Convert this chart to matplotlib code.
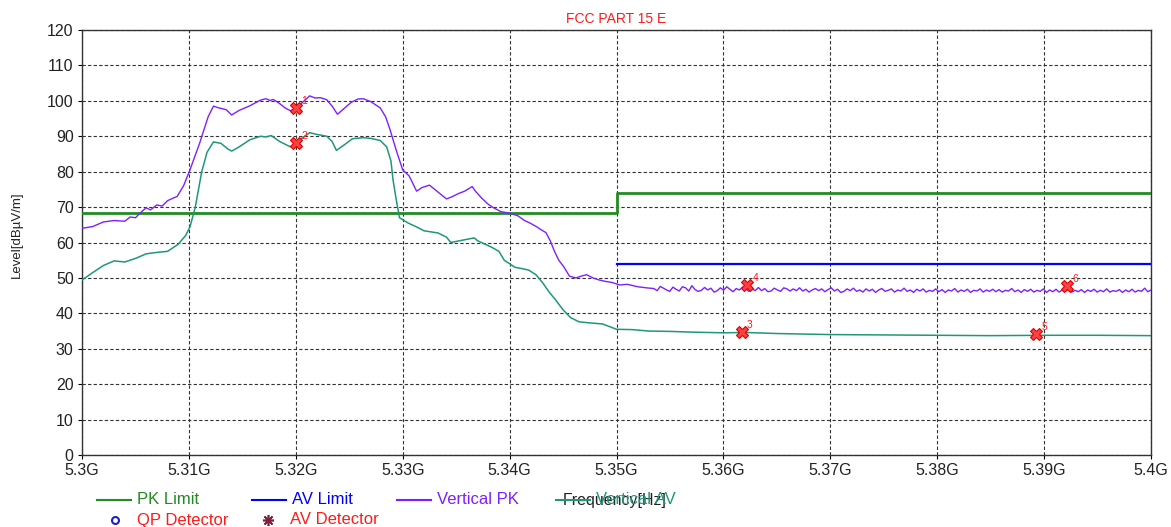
import numpy as np
import matplotlib
matplotlib.use("Agg")
import matplotlib.pyplot as plt
from matplotlib.lines import Line2D

plt.rcParams['font.family'] = ['Liberation Sans', 'DejaVu Sans']

# ---------------- data ----------------
pk_limit_f = [5.300, 5.350, 5.350, 5.400]
pk_limit_v = [68.3, 68.3, 74.0, 74.0]
av_limit_f = [5.350, 5.400]
av_limit_v = [54.0, 54.0]

vpk_f = [5.3000, 5.3010, 5.3020, 5.3030, 5.3040, 5.3045, 5.3050, 5.3055, 5.3060, 5.3064,
         5.3070, 5.3075, 5.3080, 5.3085, 5.3089, 5.3095, 5.3101, 5.3110, 5.3118, 5.3123,
         5.3128, 5.3135, 5.3140, 5.3147, 5.3157, 5.3167, 5.3172, 5.3176, 5.3179, 5.3185,
         5.3190, 5.3195, 5.3200, 5.3206, 5.3213, 5.3218, 5.3223, 5.3229, 5.3234, 5.3239,
         5.3245, 5.3252, 5.3258, 5.3263, 5.3270, 5.3279, 5.3284, 5.3288, 5.3294, 5.3300,
         5.3306, 5.3313, 5.3318, 5.3325, 5.3330, 5.3336, 5.3341, 5.3346, 5.3352, 5.3358,
         5.3365, 5.3368, 5.3374, 5.3380, 5.3385, 5.3392, 5.3400, 5.3408, 5.3414, 5.3419,
         5.3425, 5.3430, 5.3434, 5.3438, 5.3442, 5.3446, 5.3451, 5.3456, 5.3462, 5.3468,
         5.3472, 5.3478, 5.3484, 5.3490, 5.3496, 5.3503, 5.3510, 5.3520, 5.3528]
vpk_v = [64.0, 64.5, 65.8, 66.2, 66.0, 67.2, 67.0, 68.5, 69.8, 69.2,
         70.6, 70.3, 71.8, 72.5, 73.0, 76.0, 80.5, 88.0, 95.5, 98.5,
         98.0, 97.5, 96.0, 97.3, 98.6, 100.2, 100.6, 100.1, 100.4, 99.2,
         98.0, 97.2, 97.8, 99.5, 101.4, 100.8, 100.9, 100.3, 98.5, 96.2,
         97.8, 99.6, 100.5, 100.6, 99.8, 98.0, 95.5, 92.0, 86.0, 80.5,
         78.8, 74.5, 75.5, 76.2, 75.0, 73.5, 72.3, 72.9, 73.8, 74.5,
         75.8, 74.5, 72.5, 70.8, 69.8, 68.7, 68.3, 67.5, 66.2, 65.5,
         64.5, 63.5, 62.8, 60.5, 57.5, 55.0, 53.0, 50.5, 50.0, 50.6,
         50.9, 50.0, 49.4, 49.0, 48.7, 48.0, 48.2, 47.5, 47.2]
# noisy flat part of the peak trace, 5.3535 .. 5.4 GHz
vpk_tail_v = [47.0, 46.4, 47.6, 47.1, 46.6, 46.2, 47.4, 46.8, 46.3, 47.5,
              47.2, 46.3, 47.8, 46.7, 46.2, 46.5, 47.3, 46.6, 47.1, 46.0,
              46.4, 47.2, 46.5, 47.5, 46.8, 46.1, 47.0, 46.6, 47.4, 47.0,
              46.2, 46.9, 46.4, 47.3, 46.4, 47.0, 46.1, 46.3, 47.1, 46.6,
              46.2, 47.2, 46.9, 46.3, 46.9, 46.4, 47.2, 46.3, 46.8, 46.0,
              46.6, 47.0, 46.4, 46.9, 46.1, 46.7, 47.2, 46.3, 46.8, 45.9,
              46.2, 46.9, 46.4, 47.1, 46.2, 46.6, 46.0, 46.9, 46.3, 46.8,
              45.9, 46.6, 47.0, 46.2, 46.5, 46.9, 46.0, 46.6, 46.3, 47.1,
              46.2, 46.6, 45.9, 46.8, 46.3, 46.9, 46.0, 46.5, 46.2, 46.9,
              46.1, 46.7, 45.9, 46.6, 46.3, 47.0, 46.0, 46.6, 46.2, 46.8,
              45.9, 46.5, 46.3, 46.9, 46.0, 46.6, 46.2, 46.8, 46.1, 46.7,
              46.0, 46.5, 46.3, 47.0, 46.1, 46.6, 45.9, 46.7, 46.2, 46.8,
              46.0, 46.5, 46.2, 46.9, 45.9, 46.6, 46.1, 46.8, 46.0, 46.6,
              46.2, 46.9, 46.0, 46.5, 46.1, 46.7, 45.9, 46.6, 46.2, 46.8,
              46.0, 46.5, 46.1, 46.9, 46.0, 46.4, 46.2, 46.7, 45.9, 46.6,
              46.1, 46.8, 46.0, 46.5, 46.2, 47.1, 46.1, 46.6]

vav_f = [5.3000, 5.3010, 5.3020, 5.3030, 5.3040, 5.3050, 5.3060, 5.3070, 5.3080, 5.3090,
         5.3097, 5.3101, 5.3106, 5.3112, 5.3117, 5.3123, 5.3130, 5.3136, 5.3140, 5.3147,
         5.3157, 5.3167, 5.3172, 5.3177, 5.3185, 5.3195, 5.3200, 5.3206, 5.3213, 5.3220,
         5.3229, 5.3234, 5.3238, 5.3245, 5.3253, 5.3263, 5.3270, 5.3279, 5.3285, 5.3289,
         5.3291, 5.3294, 5.3297, 5.3305, 5.3313, 5.3320, 5.3333, 5.3341, 5.3345, 5.3355,
         5.3367, 5.3370, 5.3383, 5.3390, 5.3395, 5.3400, 5.3405, 5.3412, 5.3418, 5.3425,
         5.3431, 5.3437, 5.3443, 5.3450, 5.3457, 5.3465, 5.3475, 5.3487, 5.3500, 5.3515,
         5.3530, 5.3550, 5.3570, 5.3600, 5.3620, 5.3650, 5.3700, 5.3750, 5.3800, 5.3850,
         5.3900, 5.3950, 5.4000]
vav_v = [49.4, 51.5, 53.5, 54.8, 54.5, 55.5, 56.8, 57.2, 57.5, 59.5,
         62.0, 64.4, 70.0, 80.0, 85.5, 88.4, 88.0, 86.5, 85.8, 87.0,
         89.0, 90.0, 89.8, 90.2, 88.5, 87.0, 88.0, 89.5, 91.0, 90.5,
         90.0, 88.5, 86.0, 87.5, 89.3, 89.6, 89.4, 88.8, 87.0, 83.0,
         77.6, 72.0, 67.0, 65.5, 64.4, 63.3, 62.7, 61.5, 60.0, 60.6,
         61.3, 60.5, 58.7, 57.5, 55.0, 54.0, 53.0, 52.6, 52.2, 50.8,
         48.6, 46.0, 43.8, 41.0, 38.8, 37.6, 37.3, 37.0, 35.5, 35.4,
         35.0, 34.9, 34.7, 34.5, 34.6, 34.3, 34.0, 33.9, 33.8, 33.7,
         33.8, 33.8, 33.7]

mark_f = [5.3200, 5.3200, 5.3617, 5.3622, 5.3892, 5.3921]
mark_v = [98.0, 88.0, 34.7, 48.0, 34.2, 47.7]
mark_lbl = ["1", "2", "3", "4", "5", "6"]

x_ticks = [5.30, 5.31, 5.32, 5.33, 5.34, 5.35, 5.36, 5.37, 5.38, 5.39, 5.40]
x_tick_labels = ["5.3G", "5.31G", "5.32G", "5.33G", "5.34G", "5.35G",
                 "5.36G", "5.37G", "5.38G", "5.39G", "5.4G"]
y_ticks = list(range(0, 121, 10))

# ---------------- colours ----------------
c_pk = "#228B22"
c_av = "#0000FF"
c_vpk = "#7F1FFF"
c_vav = "#1E9878"
c_red = "#FF1A1A"

fig = plt.figure(figsize=(11.71, 5.27), dpi=100)
ax = fig.add_axes([82/1171, 1-455/527, (1151-82)/1171, (455-30)/527])

vpk_full_f = list(vpk_f) + list(np.linspace(5.3535, 5.4, len(vpk_tail_v)))
vpk_full_v = list(vpk_v) + list(vpk_tail_v)

ax.plot(pk_limit_f, pk_limit_v, color=c_pk, lw=2.0, zorder=3)
ax.plot(av_limit_f, av_limit_v, color=c_av, lw=1.6, zorder=3)
ax.plot(vpk_full_f, vpk_full_v, color=c_vpk, lw=1.0, zorder=4)
ax.plot(vav_f, vav_v, color=c_vav, lw=1.1, zorder=4)

ax.plot(mark_f, mark_v, linestyle="none", marker="X", markersize=8,
        markerfacecolor="#FF4040", markeredgecolor="#E00000", markeredgewidth=0.8, zorder=6)
for f, v, t in zip(mark_f, mark_v, mark_lbl):
    ax.annotate(t, (f, v), xytext=(4, 3), textcoords="offset points",
                color=c_red, fontsize=7.5, zorder=7)

ax.set_xlim(5.3, 5.4)
ax.set_ylim(0, 120)
ax.set_xticks(x_ticks)
ax.set_xticklabels(x_tick_labels, fontsize=11.5, color="#222222")
ax.set_yticks(y_ticks)
ax.set_yticklabels([str(v) for v in y_ticks], fontsize=11.5, color="#222222")
ax.tick_params(direction="out", length=3, width=0.8, pad=3)
ax.grid(True, color="#333333", linestyle=(0, (3, 2)), linewidth=0.8)
for s in ax.spines.values():
    s.set_color("#333333")
    s.set_linewidth(1.0)

ax.set_title("FCC PART 15 E", color=c_red, fontsize=10, pad=5)
ax.set_ylabel("Level[dBµV/m]", fontsize=9.5, color="#222222")
ax.yaxis.set_label_coords(-(82-23)/(1151-82), (455-235)/(455-30))
ax.set_xlabel("Frequency[Hz]", fontsize=11.5, color="#222222")
ax.xaxis.set_label_coords((615-82)/(1151-82), -(500-455)/(455-30))
ax.xaxis.label.set_verticalalignment("center")

# ---------------- manual legend ----------------
def fig_xy(px, py):
    return px/1171, 1-py/527

leg_row1 = [("PK Limit", c_pk, 97), ("AV Limit", c_av, 252),
            ("Vertical PK", c_vpk, 397), ("Vertical AV", c_vav, 556)]
for lbl, col, x0 in leg_row1:
    (xa, ya) = fig_xy(x0, 500)
    (xb, _) = fig_xy(x0 + 34, 500)
    fig.add_artist(Line2D([xa, xb], [ya, ya], color=col, lw=1.5, transform=fig.transFigure))
    tx, ty = fig_xy(x0 + 40, 500)
    fig.text(tx, ty, lbl, color=col, fontsize=12, va="center", ha="left")

leg_row2 = [("QP Detector", "o", 115), ("AV Detector", (8, 2, 0), 268)]
for lbl, mk, x0 in leg_row2:
    mx, my = fig_xy(x0, 520)
    if mk == "o":
        fig.add_artist(Line2D([mx], [my], marker="o", markersize=5, markerfacecolor="none",
                              markeredgecolor="#2020C0", markeredgewidth=1.5,
                              transform=fig.transFigure))
    else:
        fig.add_artist(Line2D([mx], [my], marker=mk, markersize=8, color="#802040",
                              markeredgewidth=1.2, transform=fig.transFigure))
    tx, ty = fig_xy(x0 + 22, 520)
    fig.text(tx, ty, lbl, color=c_red, fontsize=12, va="center", ha="left")

fig.savefig("out.png", dpi=100)
